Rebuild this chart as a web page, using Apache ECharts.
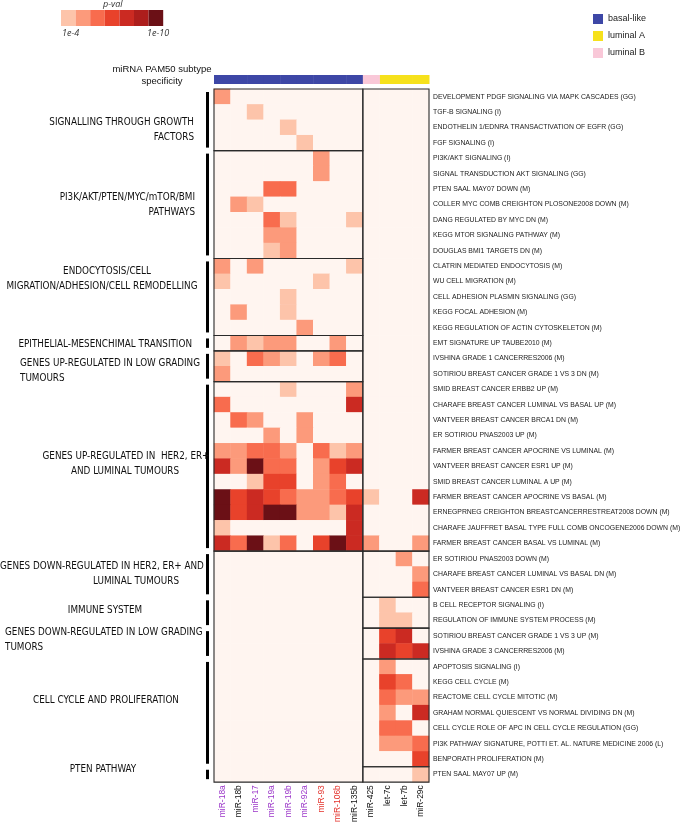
<!DOCTYPE html>
<html><head><meta charset="utf-8">
<script src="https://cdn.jsdelivr.net/npm/echarts@6/dist/echarts.min.js"></script>
<style>html,body{margin:0;padding:0;background:#fff}#c{width:685px;height:825px}</style>
</head><body><div id="c"></div>
<script>
// ---------------- DATA ----------------
const mirnas = ['miR-18a','miR-18b','miR-17','miR-19a','miR-19b','miR-92a','miR-93','miR-106b','miR-135b','miR-425','let-7c','let-7b','miR-29c'];
const mirnaFamily = ['p','k','p','p','p','p','r','r','k','k','k','k','k']; // p: purple, r: red, k: black
const subtypes = ['basal-like','luminal A','luminal B'];
const mirnaSubtype = ['basal-like','basal-like','basal-like','basal-like','basal-like','basal-like','basal-like','basal-like','basal-like','luminal B','luminal A','luminal A','luminal A'];
const genesets = [
 'DEVELOPMENT PDGF SIGNALING VIA MAPK CASCADES (GG)','TGF-B SIGNALING (I)','ENDOTHELIN 1/EDNRA TRANSACTIVATION OF EGFR (GG)','FGF SIGNALING (I)',
 'PI3K/AKT SIGNALING (I)','SIGNAL TRANSDUCTION AKT SIGNALING (GG)','PTEN SAAL MAY07 DOWN (M)','COLLER MYC COMB CREIGHTON PLOSONE2008 DOWN (M)','DANG REGULATED BY MYC DN (M)','KEGG MTOR SIGNALING PATHWAY (M)','DOUGLAS BMI1 TARGETS DN (M)',
 'CLATRIN MEDIATED ENDOCYTOSIS (M)','WU CELL MIGRATION (M)','CELL ADHESION PLASMIN SIGNALING (GG)','KEGG FOCAL ADHESION (M)','KEGG REGULATION OF ACTIN CYTOSKELETON (M)',
 'EMT SIGNATURE UP TAUBE2010 (M)',
 'IVSHINA GRADE 1 CANCERRES2006 (M)','SOTIRIOU BREAST CANCER GRADE 1 VS 3 DN (M)',
 'SMID BREAST CANCER ERBB2 UP (M)','CHARAFE BREAST CANCER LUMINAL VS BASAL UP (M)','VANTVEER BREAST CANCER BRCA1 DN (M)','ER SOTIRIOU PNAS2003 UP (M)','FARMER BREAST CANCER APOCRINE VS LUMINAL (M)','VANTVEER BREAST CANCER ESR1 UP (M)','SMID BREAST CANCER LUMINAL A UP (M)','FARMER BREAST CANCER APOCRINE VS BASAL (M)','ERNEGPRNEG CREIGHTON BREASTCANCERRESTREAT2008 DOWN (M)','CHARAFE JAUFFRET BASAL TYPE FULL COMB ONCOGENE2006 DOWN (M)','FARMER BREAST CANCER BASAL VS LUMINAL (M)',
 'ER SOTIRIOU PNAS2003 DOWN (M)','CHARAFE BREAST CANCER LUMINAL VS BASAL DN (M)','VANTVEER BREAST CANCER ESR1 DN (M)',
 'B CELL RECEPTOR SIGNALING (I)','REGULATION OF IMMUNE SYSTEM PROCESS (M)',
 'SOTIRIOU BREAST CANCER GRADE 1 VS 3 UP (M)','IVSHINA GRADE 3 CANCERRES2006 (M)',
 'APOPTOSIS SIGNALING (I)','KEGG CELL CYCLE (M)','REACTOME CELL CYCLE MITOTIC (M)','GRAHAM NORMAL QUIESCENT VS NORMAL DIVIDING DN (M)','CELL CYCLE ROLE OF APC IN CELL CYCLE REGULATION (GG)','PI3K PATHWAY SIGNATURE, POTTI ET. AL. NATURE MEDICINE 2006 (L)','BENPORATH PROLIFERATION (M)',
 'PTEN SAAL MAY07 UP (M)'
];
const groupNames = [
 'SIGNALLING THROUGH GROWTH\nFACTORS',
 'PI3K/AKT/PTEN/MYC/mTOR/BMI\nPATHWAYS',
 'ENDOCYTOSIS/CELL\nMIGRATION/ADHESION/CELL REMODELLING',
 'EPITHELIAL-MESENCHIMAL TRANSITION',
 'GENES UP-REGULATED IN LOW GRADING\nTUMOURS',
 'GENES UP-REGULATED IN  HER2, ER+\nAND LUMINAL TUMOURS',
 'GENES DOWN-REGULATED IN HER2, ER+ AND\nLUMINAL TUMOURS',
 'IMMUNE SYSTEM',
 'GENES DOWN-REGULATED IN LOW GRADING\nTUMORS',
 'CELL CYCLE AND PROLIFERATION',
 'PTEN PATHWAY'
];
const groupFirstRow = [0,4,11,16,17,19,30,33,35,37,44];
const groupLastRow  = [3,10,15,16,18,29,32,34,36,43,44];
// boxes: [firstMirna, lastMirna, firstRow, lastRow]
const sectionBoxes = [
 [0,8,0,3],[0,8,4,10],[0,8,11,15],[0,8,16,16],[0,8,17,18],[0,8,19,29],[0,8,30,44],
 [9,12,0,29],[9,12,30,32],[9,12,33,34],[9,12,35,36],[9,12,37,43],[9,12,44,44]
];
// -log10(p-value), 0 = not significant; columns follow mirnas
const negLog10P = [
 [5,0,0,0,0,0,0,0,0,0,0,0,0],
 [0,0,4,0,0,0,0,0,0,0,0,0,0],
 [0,0,0,0,4,0,0,0,0,0,0,0,0],
 [0,0,0,0,0,4,0,0,0,0,0,0,0],
 [0,0,0,0,0,0,5,0,0,0,0,0,0],
 [0,0,0,0,0,0,5,0,0,0,0,0,0],
 [0,0,0,6,6,0,0,0,0,0,0,0,0],
 [0,5,4,0,0,0,0,0,0,0,0,0,0],
 [0,0,0,6,4,0,0,0,4,0,0,0,0],
 [0,0,0,5,5,0,0,0,0,0,0,0,0],
 [0,0,0,4,5,0,0,0,0,0,0,0,0],
 [5,0,5,0,0,0,0,0,4,0,0,0,0],
 [4,0,0,0,0,0,4,0,0,0,0,0,0],
 [0,0,0,0,4,0,0,0,0,0,0,0,0],
 [0,5,0,0,4,0,0,0,0,0,0,0,0],
 [0,0,0,0,0,5,0,0,0,0,0,0,0],
 [0,5,4,5,5,0,0,5,0,0,0,0,0],
 [4,0,6,5,4,0,5,6,0,0,0,0,0],
 [5,0,0,0,0,0,0,0,0,0,0,0,0],
 [0,0,0,0,4,0,0,0,5,0,0,0,0],
 [6,0,0,0,0,0,0,0,8,0,0,0,0],
 [0,6,5,0,0,5,0,0,0,0,0,0,0],
 [0,0,0,5,0,5,0,0,0,0,0,0,0],
 [5,5,6,6,5,0,6,4,5,0,0,0,0],
 [8,5,10,6,6,0,5,7,8,0,0,0,0],
 [0,0,4,7,7,0,5,6,0,0,0,0,0],
 [10,7,8,7,6,5,5,6,7,4,0,0,8],
 [10,7,8,10,10,5,5,4,8,0,0,0,0],
 [4,0,0,0,0,0,0,0,8,0,0,0,0],
 [8,6,10,4,6,0,7,10,8,5,0,0,5],
 [0,0,0,0,0,0,0,0,0,0,0,5,0],
 [0,0,0,0,0,0,0,0,0,0,0,0,5],
 [0,0,0,0,0,0,0,0,0,0,0,0,6],
 [0,0,0,0,0,0,0,0,0,0,4,0,0],
 [0,0,0,0,0,0,0,0,0,0,4,4,0],
 [0,0,0,0,0,0,0,0,0,0,7,8,0],
 [0,0,0,0,0,0,0,0,0,0,8,7,8],
 [0,0,0,0,0,0,0,0,0,0,5,0,0],
 [0,0,0,0,0,0,0,0,0,0,7,6,0],
 [0,0,0,0,0,0,0,0,0,0,6,5,5],
 [0,0,0,0,0,0,0,0,0,0,5,0,8],
 [0,0,0,0,0,0,0,0,0,0,6,6,0],
 [0,0,0,0,0,0,0,0,0,0,5,5,6],
 [0,0,0,0,0,0,0,0,0,0,0,0,7],
 [0,0,0,0,0,0,0,0,0,0,0,0,4]
];
const pvalTickLabels = ['1e-4','1e-10'];

// ---------------- STYLE / LAYOUT ----------------
const levelColors = ['#fdc4aa','#fc9a7b','#f86c4e','#e8422b','#cb2a22','#ad1e1c','#6b1016'];
const bgColor = '#fff5f0';
const subtypeColors = {'basal-like':'#3d47a6','luminal A':'#f6e11c','luminal B':'#f9c8d8'};
const familyColors = {p:'#9b36c9', r:'#e4322b', k:'#111'};
// per group label lines: [x, align], and vertical shift (px) from group centre
const groupLabelLayout = [
 {lines:[[194,'right'],[194,'right']], dy:10},
 {lines:[[195,'right'],[195,'right']], dy:0},
 {lines:[[107,'center'],[102,'center']], dy:-18},
 {lines:[[192,'right']], dy:1},
 {lines:[[20,'left'],[20,'left']], dy:5},
 {lines:[[126,'center'],[125,'center']], dy:-2},
 {lines:[[0,'left'],[136,'center']], dy:0},
 {lines:[[105,'center']], dy:-2},
 {lines:[[5,'left'],[5,'left']], dy:-4},
 {lines:[[106,'center']], dy:-12},
 {lines:[[103,'center']], dy:-5}
];
const GL = 214, GT = 89, GW = 215, GH = 697;
const narrow = '"Liberation Sans Narrow","Arial Narrow","DejaVu Sans Condensed",sans-serif';

// ---------------- BUILD ----------------
const heatData = [];
negLog10P.forEach((row, r) => row.forEach((v, c) => heatData.push([c, r, v])));

const subtypeSeries = subtypes.map(st => ({
  type: 'custom', name: st, xAxisIndex: 1, yAxisIndex: 1,
  itemStyle: {color: subtypeColors[st]},
  data: mirnaSubtype.map((s, i) => s === st ? [i, 0] : null).filter(d => d),
  renderItem(params, api) {
    const p = api.coord([api.value(0), 0]);
    const s = api.size([1, 1]);
    return {type:'rect', shape:{x:p[0]-s[0]/2, y:p[1]-s[1]/2, width:s[0]+0.5, height:s[1]}, style:{fill: api.visual('color')}};
  }
}));

const chart = echarts.init(document.getElementById('c'), null, {renderer:'canvas'});
chart.setOption({
  animation: false,
  backgroundColor: '#fff',
  textStyle: {fontFamily: '"Liberation Sans",Arial,sans-serif'},
  legend: {
    data: subtypes, orient:'vertical', left: 588, top: 9, itemWidth: 10, itemHeight: 10, itemGap: 7,
    icon: 'rect', textStyle: {fontSize: 9, color:'#222'}, selectedMode: false
  },
  grid: [
    {left: GL, top: GT, width: GW, height: GH},
    {left: GL, top: 75, width: GW, height: 9}
  ],
  xAxis: [
    {type:'category', gridIndex:0, data: mirnas, position:'bottom',
     axisLine:{show:false}, axisTick:{show:false}, splitLine:{show:false},
     axisLabel:{rotate:90, fontSize:8.5, margin:3,
       formatter:(v, i) => '{' + mirnaFamily[i] + '|' + v + '}',
       rich:{p:{color:familyColors.p, fontSize:8.5}, r:{color:familyColors.r, fontSize:8.5}, k:{color:familyColors.k, fontSize:8.5}}}},
    {type:'category', gridIndex:1, data: mirnas, show:false}
  ],
  yAxis: [
    {type:'category', gridIndex:0, data: genesets, inverse:true, position:'right',
     axisLine:{show:false}, axisTick:{show:false}, splitLine:{show:false},
     axisLabel:{fontSize:6.85, color:'#222', margin:4}},
    {type:'category', gridIndex:1, data:['subtype'], show:false}
  ],
  visualMap: {
    type:'piecewise', seriesIndex:0, orient:'horizontal', left:61, top:10, padding:0,
    itemWidth:14.6, itemHeight:16, itemGap:0, showLabel:false, itemSymbol:'rect',
    selectedMode:false, hoverLink:false,
    pieces: levelColors.map((c, i) => ({min: 3.5 + i, max: 4.5 + i, color: c})),
    outOfRange: {color: bgColor}
  },
  graphic: [
    {type:'text', left: 103, top: 0, style:{text:'p-val', font:'italic 9px "Open Sans",sans-serif', fill:'#333'}},
    {type:'text', left: 62, top: 29, style:{text: pvalTickLabels[0], font:'italic 9px "Open Sans",sans-serif', fill:'#333'}},
    {type:'text', left: 147, top: 29, style:{text: pvalTickLabels[1], font:'italic 9px "Open Sans",sans-serif', fill:'#333'}},
    {type:'text', left: 112, top: 63, style:{text:'miRNA PAM50 subtype\nspecificity', font:'9.5px "Liberation Sans",Arial,sans-serif', fill:'#111', textAlign:'center', lineHeight:12, width:100, align:'center'}}
  ],
  series: [
    {type:'heatmap', xAxisIndex:0, yAxisIndex:0, data: heatData, itemStyle:{borderWidth:0}, emphasis:{disabled:true}, z:1},
    {type:'custom', xAxisIndex:0, yAxisIndex:0, data: sectionBoxes, z:5, silent:true,
     renderItem(params, api) {
       const s = api.size([1,1]);
       const p0 = api.coord([api.value(0), api.value(2)]);
       const p1 = api.coord([api.value(1), api.value(3)]);
       return {type:'rect', shape:{x:p0[0]-s[0]/2, y:p0[1]-s[1]/2, width:p1[0]-p0[0]+s[0], height:p1[1]-p0[1]+s[1]},
               style:{fill:null, stroke:'#2a2a2a', lineWidth:1.1}};
     }},
    {type:'custom', xAxisIndex:0, yAxisIndex:0, z:5, silent:true, clip:false,
     data: groupNames.map((n, i) => [0, groupFirstRow[i], groupLastRow[i], i]),
     renderItem(params, api) {
       const s = api.size([1,1]);
       const gi = api.value(3);
       const top = api.coord([0, api.value(1)])[1] - s[1]/2;
       const bot = api.coord([0, api.value(2)])[1] + s[1]/2;
       const bx = api.coord([0, 0])[0] - s[0]/2 - 6.5;
       const lay = groupLabelLayout[gi];
       const lines = groupNames[gi].split('\n');
       const yc = (top + bot)/2 + lay.dy;
       const lh = 15;
       const children = [{type:'line', shape:{x1:bx, y1:top+3, x2:bx, y2:bot-3}, style:{stroke:'#000', lineWidth:3}}];
       lines.forEach((t, li) => {
         children.push({type:'text', style:{text:t, x: lay.lines[li][0], y: yc + (li - (lines.length-1)/2)*lh,
           align: lay.lines[li][1], verticalAlign:'middle', font:'9.8px ' + narrow, fill:'#111'}});
       });
       return {type:'group', children};
     }},
    ...subtypeSeries
  ]
});
</script></body></html>
